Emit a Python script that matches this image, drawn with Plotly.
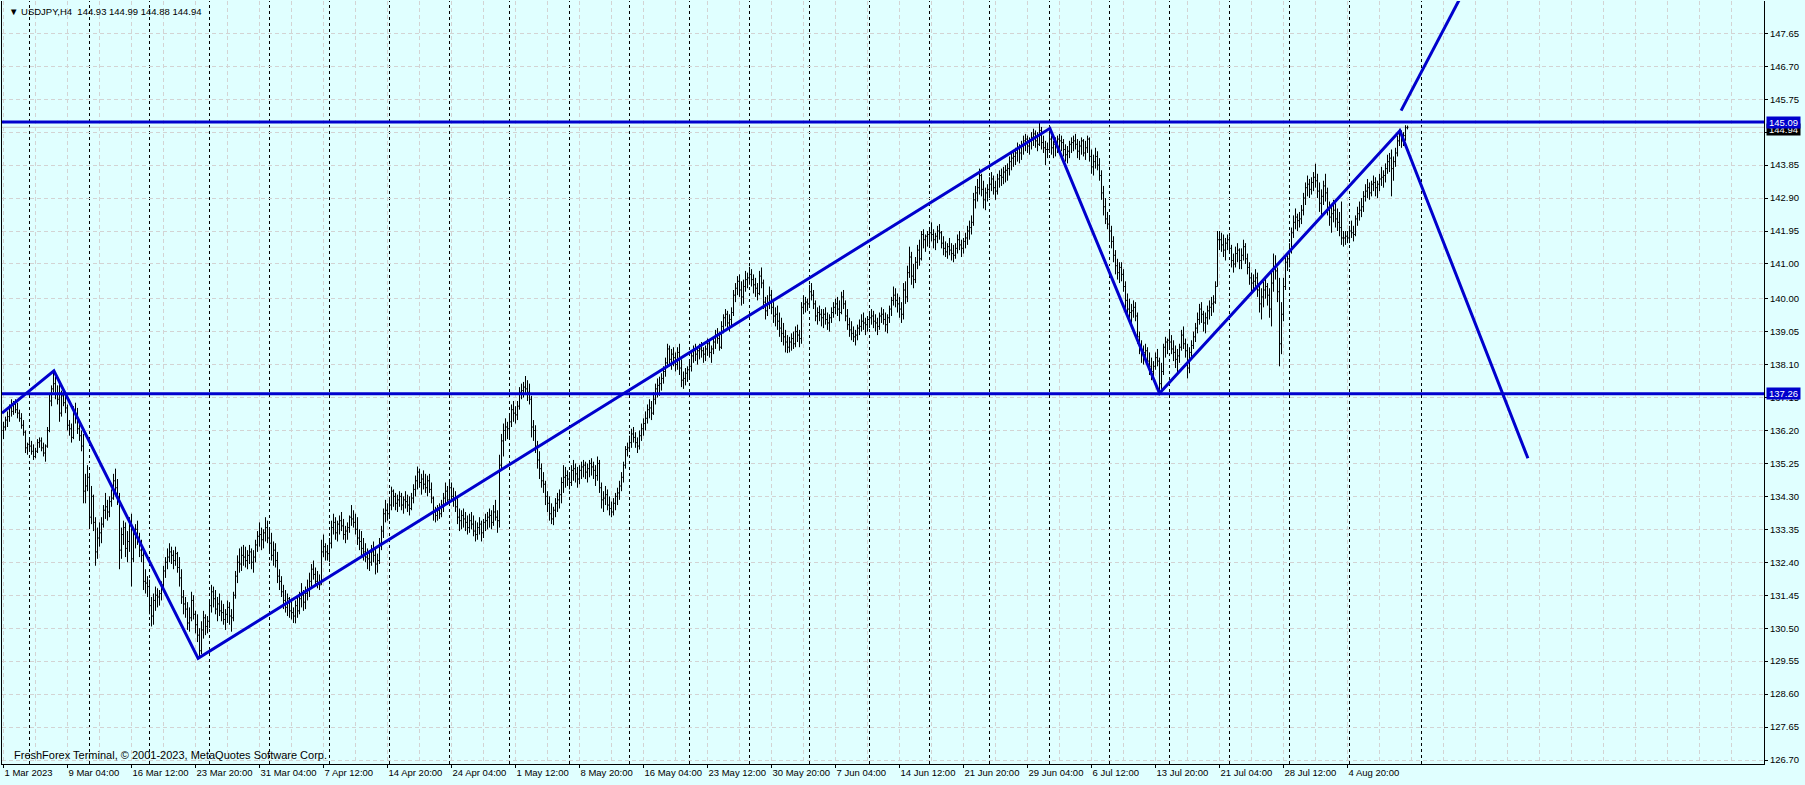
import plotly.graph_objects as go
import pandas as pd

# ---- USDJPY H4 bars (one line per trading day, 6 bars) ----
bar_high = [
    136.45,
    136.60, 136.75, 136.95, 137.10, 137.05, 137.10,
    137.00, 136.80, 136.70, 136.50, 136.20, 135.85,
    # week of 6 Mar
    135.95, 135.90, 135.80, 135.70, 135.95, 136.00,
    136.00, 135.85, 135.80, 136.30, 137.25, 137.50,
    137.92, 137.75, 137.50, 137.55, 137.35, 137.35,
    137.20, 136.95, 136.50, 136.40, 136.90, 137.00,
    136.85, 136.45, 136.20, 136.10, 134.95, 135.20,
    # week of 13 Mar
    134.90, 134.60, 134.35, 133.70, 133.40, 133.55,
    133.70, 134.05, 134.40, 134.20, 134.30, 134.50,
    134.95, 135.10, 134.80, 134.40, 133.40, 133.60,
    133.55, 133.30, 133.70, 133.80, 133.40, 133.50,
    133.60, 133.25, 133.05, 132.75, 132.20, 132.00,
    # week of 20 Mar
    131.90, 131.40, 131.50, 131.70, 131.65, 131.60,
    131.85, 132.30, 132.55, 132.80, 132.95, 132.85,
    132.75, 132.85, 132.70, 132.55, 132.20, 131.60,
    131.40, 131.25, 131.10, 131.55, 131.45, 131.00,
    130.90, 130.50, 130.70, 131.00, 130.90, 130.85,
    # week of 27 Mar
    131.30, 131.75, 131.70, 131.60, 131.40, 131.50,
    131.30, 131.20, 131.05, 131.30, 131.25, 131.05,
    131.55, 132.15, 132.60, 132.80, 132.85, 132.90,
    132.85, 132.75, 132.90, 132.80, 132.75, 133.05,
    133.30, 133.55, 133.40, 133.35, 133.70, 133.60,
    # week of 3 Apr
    133.40, 133.25, 133.00, 132.95, 132.70, 132.20,
    132.00, 131.75, 131.60, 131.50, 131.40, 131.35,
    131.10, 131.30, 131.40, 131.55, 131.80, 131.60,
    131.70, 131.90, 132.10, 132.35, 132.45, 132.25,
    132.15, 132.05, 133.05, 133.20, 132.95, 132.90,
    # week of 10 Apr
    133.10, 133.60, 133.80, 133.70, 133.60, 133.75,
    133.85, 133.65, 133.45, 133.55, 133.75, 134.05,
    133.90, 133.80, 133.70, 133.35, 133.30, 133.10,
    132.95, 132.80, 132.75, 132.90, 133.00, 132.80,
    132.65, 133.10, 133.45, 133.95, 134.20, 134.10,
    # week of 17 Apr
    134.25, 134.58, 134.50, 134.40, 134.35, 134.45,
    134.40, 134.30, 134.45, 134.35, 134.30, 134.40,
    134.65, 134.90, 135.16, 135.10, 134.95, 135.05,
    134.95, 134.90, 134.95, 134.70, 134.30, 134.00,
    134.05, 134.10, 134.20, 134.40, 134.70, 134.60,
    # week of 24 Apr
    134.75, 134.70, 134.55, 134.45, 134.25, 133.95,
    133.90, 133.95, 133.85, 133.75, 133.80, 133.85,
    133.75, 133.60, 133.55, 133.70, 133.60, 133.65,
    133.80, 133.85, 133.95, 133.90, 134.05, 134.20,
    133.90, 135.50, 136.10, 136.40, 136.55, 136.45,
    # week of 1 May
    136.65, 136.95, 137.05, 136.90, 137.05, 137.45,
    137.55, 137.60, 137.77, 137.65, 137.55, 137.20,
    136.50, 136.35, 135.90, 135.60, 135.25, 135.00,
    134.75, 134.45, 134.30, 134.10, 134.00, 134.25,
    134.40, 134.50, 134.85, 135.20, 135.15, 135.05,
    # week of 8 May
    135.00, 135.20, 135.35, 135.25, 135.15, 135.20,
    135.30, 135.35, 135.30, 135.25, 135.35, 135.40,
    135.30, 135.20, 135.45, 135.35, 134.70, 134.45,
    134.60, 134.50, 134.30, 134.15, 134.25, 134.40,
    134.55, 134.75, 135.00, 135.30, 135.75, 135.85,
    # week of 15 May
    136.05, 136.25, 136.30, 136.15, 136.00, 136.20,
    136.40, 136.55, 136.75, 136.95, 137.10, 137.05,
    137.30, 137.55, 137.70, 137.75, 137.85, 138.05,
    138.30, 138.70, 138.65, 138.55, 138.60, 138.45,
    138.60, 138.70, 138.25, 137.90, 138.00, 138.05,
    # week of 22 May
    138.25, 138.50, 138.65, 138.70, 138.60, 138.70,
    138.75, 138.60, 138.65, 138.85, 138.80, 138.65,
    138.85, 139.10, 139.15, 139.05, 139.35, 139.55,
    139.70, 139.65, 139.55, 139.75, 140.25, 140.45,
    140.65, 140.70, 140.50, 140.55, 140.80, 140.75,
    # week of 29 May
    140.92, 140.85, 140.70, 140.60, 140.45, 140.80,
    140.90, 140.55, 140.05, 140.10, 140.35, 140.25,
    139.90, 139.75, 139.80, 139.60, 139.45, 139.30,
    139.10, 138.95, 138.90, 139.00, 139.05, 139.20,
    139.25, 139.10, 139.90, 140.10, 140.05, 140.00,
    # week of 5 Jun
    140.40, 140.45, 140.25, 139.95, 139.75, 139.80,
    139.70, 139.70, 139.75, 139.60, 139.55, 139.75,
    139.90, 140.00, 140.05, 139.95, 140.20, 140.25,
    139.95, 139.70, 139.45, 139.35, 139.20, 139.10,
    139.25, 139.40, 139.55, 139.60, 139.45, 139.50,
    # week of 12 Jun
    139.60, 139.70, 139.65, 139.55, 139.45, 139.60,
    139.75, 139.70, 139.60, 139.55, 139.80, 140.05,
    140.35, 140.30, 140.15, 140.05, 139.90, 140.45,
    140.50, 140.95, 141.50, 141.35, 141.00, 141.20,
    141.55, 141.70, 141.95, 142.00, 141.85, 141.95,
    # week of 19 Jun
    142.05, 142.20, 142.00, 141.90, 142.10, 142.15,
    141.95, 141.80, 141.65, 141.60, 141.75, 141.60,
    141.55, 141.60, 141.85, 141.95, 141.70, 141.75,
    141.90, 142.10, 142.25, 142.40, 143.05, 143.25,
    143.45, 143.75, 143.60, 143.40, 143.20, 143.30,
    # week of 26 Jun
    143.50, 143.65, 143.55, 143.40, 143.60, 143.70,
    143.75, 143.80, 143.85, 143.90, 144.10, 144.20,
    144.25, 144.35, 144.50, 144.45, 144.55, 144.70,
    144.75, 144.70, 144.65, 144.80, 144.90, 144.85,
    144.80, 145.07, 144.95, 144.70, 144.55, 144.50,
    # week of 3 Jul
    144.75, 144.70, 144.55, 144.65, 144.70, 144.75,
    144.70, 144.60, 144.45, 144.40, 144.55, 144.65,
    144.70, 144.75, 144.60, 144.55, 144.65, 144.60,
    144.55, 144.70, 144.65, 144.30, 144.15, 144.35,
    144.25, 144.05, 143.70, 143.25, 142.90, 142.50,
    # week of 10 Jul
    142.40, 142.10, 141.80, 141.40, 141.15, 141.05,
    141.05, 140.85, 140.50, 140.15, 140.00, 139.85,
    139.95, 139.90, 139.60, 139.05, 138.80, 138.65,
    138.70, 138.60, 138.45, 138.30, 138.20, 138.45,
    138.55, 138.30, 138.15, 138.70, 138.90, 138.85,
    # week of 17 Jul
    139.05, 138.95, 138.80, 138.65, 138.55, 138.70,
    139.10, 139.20, 138.85, 138.70, 138.60, 138.80,
    139.05, 139.30, 139.60, 139.85, 139.90, 139.65,
    139.60, 139.80, 139.95, 140.05, 140.10, 140.50,
    141.95, 141.95, 141.90, 141.85, 141.75, 141.85,
    # week of 24 Jul
    141.80, 141.55, 141.30, 141.50, 141.60, 141.45,
    141.45, 141.70, 141.60, 141.30, 141.05, 140.75,
    140.70, 140.85, 140.75, 140.40, 140.30, 140.50,
    140.65, 140.45, 140.30, 140.80, 141.30, 141.25,
    140.90, 140.60, 139.90, 140.60, 141.20, 141.25,
    # week of 31 Jul
    141.60, 142.05, 142.40, 142.60, 142.45, 142.50,
    142.70, 143.05, 143.35, 143.55, 143.45, 143.50,
    143.65, 143.89, 143.60, 143.35, 143.15, 143.40,
    143.60, 143.20, 142.80, 142.70, 142.85, 142.75,
    142.60, 142.50, 142.80, 141.95, 141.95, 141.95,
    # week of 7 Aug
    142.10, 142.25, 142.10, 142.40, 142.65, 142.80,
    142.90, 143.10, 143.30, 143.45, 143.35, 143.40,
    143.55, 143.50, 143.40, 143.60, 143.80, 143.70,
    143.90, 144.15, 144.20, 144.30, 144.10, 144.35,
    144.70, 144.90, 144.85, 144.80, 145.00, 144.99,
]

bar_low = [
    135.95,
    136.20, 136.30, 136.45, 136.60, 136.65, 136.70,
    136.55, 136.45, 136.25, 136.05, 135.55, 135.50,
    # week of 6 Mar
    135.60, 135.50, 135.35, 135.40, 135.55, 135.70,
    135.60, 135.45, 135.30, 135.70, 136.15, 136.90,
    137.30, 137.10, 136.95, 136.45, 136.60, 136.90,
    136.70, 136.20, 136.05, 135.85, 135.95, 136.40,
    136.10, 135.90, 135.60, 134.10, 134.10, 134.45,
    # week of 13 Mar
    133.40, 133.50, 133.30, 132.30, 132.50, 132.85,
    132.95, 133.40, 133.65, 133.60, 133.70, 134.00,
    134.20, 134.40, 134.05, 132.20, 132.50, 132.90,
    132.55, 132.40, 132.70, 131.70, 132.40, 132.80,
    132.90, 132.55, 132.40, 131.60, 131.50, 131.40,
    # week of 20 Mar
    130.90, 130.55, 130.60, 131.00, 131.10, 131.15,
    131.30, 131.60, 131.95, 132.20, 132.40, 132.35,
    132.20, 132.30, 132.10, 131.70, 131.20, 130.90,
    130.80, 130.45, 130.40, 130.70, 130.75, 130.35,
    130.10, 129.64, 129.75, 130.20, 130.30, 130.35,
    # week of 27 Mar
    130.50, 130.95, 131.10, 130.90, 130.70, 130.85,
    130.70, 130.60, 130.45, 130.65, 130.60, 130.40,
    130.70, 131.35, 131.80, 132.10, 132.15, 132.30,
    132.25, 132.20, 132.35, 132.20, 132.10, 132.40,
    132.70, 132.85, 132.75, 132.80, 133.00, 132.95,
    # week of 3 Apr
    132.70, 132.45, 132.30, 132.25, 131.80, 131.60,
    131.40, 131.05, 130.95, 130.85, 130.80, 130.75,
    130.65, 130.64, 130.80, 130.90, 131.10, 131.00,
    131.05, 131.30, 131.40, 131.65, 131.90, 131.70,
    131.65, 131.60, 131.75, 132.55, 132.45, 132.45,
    # week of 10 Apr
    132.40, 132.80, 133.20, 133.05, 133.00, 133.20,
    133.30, 133.05, 132.95, 133.05, 133.25, 133.45,
    133.40, 133.20, 132.90, 132.75, 132.60, 132.45,
    132.40, 132.20, 132.15, 132.30, 132.40, 132.05,
    132.10, 132.35, 132.75, 133.10, 133.55, 133.60,
    # week of 17 Apr
    133.65, 133.90, 134.00, 133.90, 133.85, 134.00,
    133.90, 133.80, 133.95, 133.85, 133.75, 133.90,
    134.10, 134.30, 134.50, 134.55, 134.35, 134.50,
    134.40, 134.30, 134.40, 134.10, 133.60, 133.55,
    133.60, 133.65, 133.70, 133.85, 134.10, 134.05,
    # week of 24 Apr
    134.05, 134.15, 134.00, 133.85, 133.50, 133.30,
    133.35, 133.40, 133.30, 133.20, 133.25, 133.35,
    133.15, 133.00, 133.05, 133.20, 133.00, 133.10,
    133.30, 133.35, 133.40, 133.35, 133.45, 133.60,
    133.25, 133.40, 135.05, 135.45, 135.90, 135.95,
    # week of 1 May
    136.00, 136.30, 136.45, 136.40, 136.50, 136.80,
    137.10, 137.15, 137.25, 137.05, 136.95, 136.00,
    135.90, 135.55, 135.10, 134.80, 134.55, 134.40,
    134.05, 133.85, 133.60, 133.50, 133.47, 133.70,
    133.85, 133.95, 134.10, 134.40, 134.55, 134.60,
    # week of 8 May
    134.50, 134.60, 134.75, 134.70, 134.55, 134.65,
    134.80, 134.85, 134.80, 134.70, 134.85, 134.90,
    134.80, 134.60, 134.75, 134.40, 133.95, 133.85,
    134.05, 133.90, 133.75, 133.70, 133.75, 133.90,
    134.05, 134.20, 134.45, 134.70, 135.10, 135.45,
    # week of 15 May
    135.60, 135.70, 135.85, 135.70, 135.55, 135.65,
    135.90, 136.05, 136.20, 136.40, 136.55, 136.50,
    136.65, 136.95, 137.15, 137.20, 137.35, 137.55,
    137.75, 138.00, 138.05, 137.95, 138.05, 137.90,
    137.95, 137.80, 137.45, 137.40, 137.50, 137.60,
    # week of 22 May
    137.70, 137.90, 138.15, 138.20, 138.10, 138.25,
    138.30, 138.15, 138.20, 138.35, 138.30, 138.15,
    138.40, 138.55, 138.70, 138.50, 138.55, 139.00,
    139.20, 139.10, 139.05, 139.20, 139.50, 139.90,
    140.10, 140.05, 139.80, 139.85, 140.20, 140.30,
    # week of 29 May
    140.40, 140.35, 140.15, 140.05, 139.95, 140.10,
    140.30, 139.70, 139.40, 139.50, 139.70, 139.55,
    139.30, 139.20, 139.10, 138.90, 138.75, 138.65,
    138.45, 138.43, 138.45, 138.50, 138.55, 138.60,
    138.75, 138.60, 138.70, 139.55, 139.60, 139.65,
    # week of 5 Jun
    139.75, 139.95, 139.70, 139.35, 139.25, 139.35,
    139.20, 139.15, 139.25, 139.10, 139.05, 139.30,
    139.45, 139.55, 139.50, 139.35, 139.55, 139.70,
    139.35, 139.10, 138.90, 138.80, 138.75, 138.65,
    138.80, 138.95, 139.05, 139.10, 138.95, 139.05,
    # week of 12 Jun
    139.15, 139.25, 139.15, 139.05, 138.95, 139.10,
    139.30, 139.25, 139.05, 139.00, 139.30, 139.50,
    139.80, 139.75, 139.60, 139.45, 139.30, 139.40,
    139.85, 139.90, 140.60, 140.40, 140.30, 140.45,
    140.85, 140.95, 141.10, 141.45, 141.35, 141.50,
    # week of 19 Jun
    141.55, 141.65, 141.45, 141.40, 141.60, 141.70,
    141.45, 141.25, 141.20, 141.15, 141.25, 141.10,
    141.05, 141.15, 141.30, 141.40, 141.20, 141.30,
    141.45, 141.55, 141.70, 141.85, 142.10, 142.60,
    142.80, 143.00, 142.95, 142.60, 142.55, 142.80,
    # week of 26 Jun
    142.90, 143.10, 143.00, 142.85, 143.00, 143.20,
    143.25, 143.30, 143.35, 143.40, 143.55, 143.70,
    143.80, 143.85, 143.95, 143.90, 144.00, 144.15,
    144.25, 144.20, 144.15, 144.30, 144.40, 144.35,
    144.25, 144.40, 144.30, 144.20, 143.85, 144.05,
    # week of 3 Jul
    144.20, 144.15, 144.05, 144.10, 144.20, 144.30,
    144.25, 144.10, 143.95, 143.90, 144.05, 144.20,
    144.25, 144.30, 144.05, 144.00, 144.15, 144.10,
    144.00, 144.20, 143.95, 143.60, 143.55, 143.75,
    143.70, 143.40, 142.85, 142.40, 142.15, 142.00,
    # week of 10 Jul
    141.70, 141.45, 141.05, 140.70, 140.55, 140.45,
    140.50, 140.20, 139.70, 139.45, 139.35, 139.30,
    139.45, 139.35, 138.70, 138.40, 138.15, 138.10,
    138.25, 138.05, 137.80, 137.65, 137.70, 137.95,
    138.05, 137.24, 137.40, 137.80, 138.30, 138.40,
    # week of 17 Jul
    138.55, 138.40, 138.20, 138.00, 137.85, 138.15,
    138.50, 138.55, 138.30, 137.70, 137.85, 138.30,
    138.55, 138.75, 139.00, 139.25, 139.30, 139.05,
    139.00, 139.25, 139.40, 139.50, 139.60, 139.85,
    140.40, 141.40, 141.35, 141.20, 141.10, 141.40,
    # week of 24 Jul
    141.30, 140.90, 140.75, 140.90, 141.05, 140.85,
    140.85, 141.10, 141.00, 140.70, 140.40, 140.15,
    140.20, 140.30, 140.05, 139.60, 139.40, 139.75,
    140.00, 139.80, 139.45, 139.20, 140.20, 140.55,
    139.90, 138.05, 138.40, 139.35, 140.25, 140.80,
    # week of 31 Jul
    140.90, 141.30, 141.75, 142.00, 141.95, 142.05,
    142.15, 142.40, 142.70, 142.95, 142.90, 143.00,
    143.10, 143.20, 142.90, 142.50, 142.35, 142.70,
    142.80, 142.40, 142.10, 141.90, 142.20, 142.05,
    141.95, 141.80, 141.55, 141.50, 141.55, 141.60,
    # week of 7 Aug
    141.60, 141.75, 141.65, 141.80, 142.10, 142.25,
    142.35, 142.50, 142.80, 142.90, 142.85, 142.95,
    143.10, 142.95, 142.90, 143.10, 143.25, 143.20,
    143.35, 143.60, 143.65, 142.95, 143.40, 143.80,
    144.10, 144.40, 144.35, 144.40, 144.55, 144.88,
]

bar_close = [
    136.30,
    136.50, 136.60, 136.85, 136.75, 136.95, 136.80,
    136.70, 136.55, 136.35, 136.15, 135.70, 135.80,
    # week of 6 Mar
    135.75, 135.60, 135.45, 135.60, 135.85, 135.90,
    135.70, 135.55, 135.75, 136.20, 137.05, 137.40,
    137.55, 137.25, 137.10, 136.70, 137.20, 137.00,
    136.85, 136.35, 136.25, 136.00, 136.70, 136.55,
    136.25, 136.05, 135.75, 134.45, 134.60, 134.85,
    # week of 13 Mar
    133.70, 134.30, 133.55, 132.70, 133.10, 133.25,
    133.50, 133.90, 134.00, 133.85, 134.15, 134.25,
    134.75, 134.55, 134.30, 132.75, 133.20, 133.40,
    132.80, 133.00, 133.45, 132.50, 133.20, 133.35,
    133.05, 132.75, 132.60, 131.85, 131.80, 131.70,
    # week of 20 Mar
    131.15, 130.85, 131.30, 131.45, 131.40, 131.50,
    131.75, 132.15, 132.40, 132.55, 132.70, 132.60,
    132.45, 132.65, 132.25, 131.95, 131.40, 131.20,
    131.05, 130.65, 130.80, 131.30, 130.90, 130.60,
    130.30, 129.85, 130.45, 130.80, 130.55, 130.70,
    # week of 27 Mar
    131.15, 131.55, 131.35, 131.05, 131.20, 131.00,
    130.95, 130.75, 130.90, 131.10, 130.85, 130.80,
    131.45, 132.00, 132.40, 132.35, 132.60, 132.55,
    132.45, 132.60, 132.70, 132.40, 132.55, 132.90,
    133.15, 133.20, 133.05, 133.25, 133.40, 133.10,
    # week of 3 Apr
    132.95, 132.60, 132.75, 132.45, 132.00, 131.85,
    131.55, 131.30, 131.10, 131.35, 131.00, 130.95,
    130.85, 131.15, 131.00, 131.35, 131.45, 131.25,
    131.50, 131.60, 131.85, 132.20, 132.05, 131.85,
    131.80, 131.75, 132.70, 132.85, 132.70, 132.65,
    # week of 10 Apr
    132.95, 133.40, 133.55, 133.25, 133.50, 133.60,
    133.45, 133.20, 133.30, 133.40, 133.70, 133.65,
    133.55, 133.35, 133.10, 133.00, 132.80, 132.70,
    132.55, 132.50, 132.40, 132.70, 132.60, 132.35,
    132.45, 132.95, 133.30, 133.80, 133.90, 133.80,
    # week of 17 Apr
    134.05, 134.45, 134.30, 134.10, 134.20, 134.30,
    134.05, 134.20, 134.15, 134.05, 133.95, 134.25,
    134.50, 134.75, 135.00, 134.70, 134.80, 134.65,
    134.55, 134.75, 134.50, 134.25, 133.85, 133.75,
    133.90, 133.80, 134.05, 134.25, 134.45, 134.20,
    # week of 24 Apr
    134.55, 134.30, 134.20, 134.00, 133.70, 133.60,
    133.75, 133.65, 133.55, 133.40, 133.60, 133.50,
    133.30, 133.20, 133.40, 133.50, 133.25, 133.55,
    133.60, 133.70, 133.75, 133.55, 133.85, 133.70,
    133.60, 135.20, 135.90, 136.20, 136.30, 136.25,
    # week of 1 May
    136.45, 136.80, 136.70, 136.65, 136.90, 137.30,
    137.35, 137.45, 137.40, 137.30, 137.10, 136.30,
    136.20, 135.75, 135.35, 135.10, 134.75, 134.65,
    134.30, 134.10, 133.80, 133.65, 133.90, 134.10,
    134.20, 134.35, 134.70, 134.85, 134.90, 134.80,
    # week of 8 May
    134.70, 135.05, 135.10, 134.95, 134.80, 135.05,
    135.15, 135.20, 135.00, 135.10, 135.25, 135.15,
    135.05, 134.90, 135.25, 134.55, 134.20, 134.25,
    134.35, 134.05, 133.95, 133.85, 134.10, 134.30,
    134.40, 134.60, 134.85, 135.20, 135.65, 135.70,
    # week of 15 May
    135.85, 136.10, 136.00, 135.85, 135.75, 136.05,
    136.25, 136.40, 136.55, 136.80, 136.85, 136.70,
    137.10, 137.40, 137.50, 137.55, 137.70, 137.90,
    138.15, 138.55, 138.25, 138.40, 138.30, 138.10,
    138.45, 138.00, 137.65, 137.70, 137.85, 137.95,
    # week of 22 May
    138.05, 138.35, 138.50, 138.40, 138.50, 138.55,
    138.50, 138.40, 138.55, 138.70, 138.45, 138.55,
    138.75, 138.95, 138.85, 138.60, 139.20, 139.45,
    139.55, 139.30, 139.40, 139.60, 140.10, 140.30,
    140.50, 140.25, 140.05, 140.35, 140.55, 140.60,
    # week of 29 May
    140.70, 140.55, 140.40, 140.30, 140.15, 140.65,
    140.45, 139.90, 139.65, 139.85, 140.10, 139.75,
    139.50, 139.55, 139.35, 139.15, 139.00, 138.90,
    138.75, 138.60, 138.75, 138.85, 138.70, 139.05,
    138.95, 138.85, 139.75, 139.85, 139.90, 139.85,
    # week of 5 Jun
    140.20, 140.10, 139.85, 139.50, 139.60, 139.55,
    139.45, 139.55, 139.40, 139.30, 139.45, 139.60,
    139.75, 139.85, 139.70, 139.60, 140.05, 139.85,
    139.50, 139.25, 139.10, 139.00, 138.90, 138.95,
    139.15, 139.20, 139.35, 139.30, 139.25, 139.40,
    # week of 12 Jun
    139.45, 139.50, 139.35, 139.30, 139.20, 139.50,
    139.55, 139.40, 139.25, 139.45, 139.70, 139.95,
    140.10, 139.95, 139.85, 139.70, 139.55, 140.25,
    140.05, 140.75, 141.20, 140.65, 140.55, 141.05,
    141.40, 141.15, 141.85, 141.70, 141.80, 141.85,
    # week of 19 Jun
    141.90, 141.85, 141.70, 141.80, 141.95, 141.90,
    141.60, 141.45, 141.35, 141.50, 141.40, 141.30,
    141.25, 141.45, 141.70, 141.55, 141.45, 141.65,
    141.75, 141.95, 142.05, 142.20, 142.85, 143.05,
    143.20, 143.55, 143.15, 142.85, 143.05, 143.15,
    # week of 26 Jun
    143.30, 143.45, 143.20, 143.10, 143.45, 143.55,
    143.50, 143.65, 143.70, 143.75, 143.95, 144.05,
    144.10, 144.20, 144.35, 144.20, 144.45, 144.55,
    144.60, 144.40, 144.55, 144.65, 144.75, 144.55,
    144.45, 144.85, 144.50, 144.35, 144.30, 144.30,
    # week of 3 Jul
    144.60, 144.35, 144.45, 144.50, 144.60, 144.55,
    144.50, 144.30, 144.15, 144.25, 144.45, 144.50,
    144.55, 144.45, 144.25, 144.40, 144.55, 144.20,
    144.35, 144.60, 144.10, 143.80, 143.95, 144.10,
    143.85, 143.55, 143.05, 142.65, 142.30, 142.15,
    # week of 10 Jul
    141.95, 141.65, 141.25, 140.95, 140.75, 140.90,
    140.70, 140.35, 139.95, 139.70, 139.60, 139.65,
    139.75, 139.50, 138.90, 138.60, 138.40, 138.45,
    138.50, 138.20, 138.05, 137.90, 138.05, 138.30,
    138.20, 137.55, 137.90, 138.60, 138.75, 138.80,
    # week of 17 Jul
    138.75, 138.55, 138.45, 138.25, 138.35, 138.60,
    138.95, 138.70, 138.50, 138.00, 138.45, 138.65,
    138.90, 139.15, 139.40, 139.70, 139.55, 139.30,
    139.45, 139.65, 139.75, 139.85, 139.90, 140.35,
    141.70, 141.70, 141.55, 141.40, 141.60, 141.70,
    # week of 24 Jul
    141.45, 141.10, 141.00, 141.30, 141.40, 141.10,
    141.25, 141.50, 141.15, 140.90, 140.60, 140.45,
    140.50, 140.60, 140.25, 139.85, 140.05, 140.25,
    140.35, 140.10, 139.70, 140.45, 140.90, 140.80,
    140.20, 138.70, 139.55, 140.35, 141.05, 141.15,
    # week of 31 Jul
    141.40, 141.90, 142.20, 142.35, 142.25, 142.30,
    142.55, 142.90, 143.20, 143.30, 143.15, 143.35,
    143.50, 143.40, 143.10, 142.75, 142.95, 143.25,
    143.05, 142.60, 142.35, 142.45, 142.55, 142.30,
    142.20, 142.05, 141.75, 141.75, 141.80, 141.75,
    # week of 7 Aug
    141.95, 141.90, 141.85, 142.30, 142.45, 142.55,
    142.65, 142.95, 143.10, 143.20, 143.05, 143.30,
    143.35, 143.20, 143.30, 143.45, 143.50, 143.55,
    143.75, 143.95, 144.05, 143.75, 143.95, 144.20,
    144.55, 144.75, 144.55, 144.70, 144.93, 144.94,
]
first_open = 136.20
first_bar_time = "2023-03-01 20:00"

x_tick_labels = [
    "1 Mar 2023", "9 Mar 04:00", "16 Mar 12:00", "23 Mar 20:00", "31 Mar 04:00",
    "7 Apr 12:00", "14 Apr 20:00", "24 Apr 04:00", "1 May 12:00", "8 May 20:00",
    "16 May 04:00", "23 May 12:00", "30 May 20:00", "7 Jun 04:00", "14 Jun 12:00",
    "21 Jun 20:00", "29 Jun 04:00", "6 Jul 12:00", "13 Jul 20:00", "21 Jul 04:00",
    "28 Jul 12:00", "4 Aug 20:00",
]
y_tick_values = [
    126.70, 127.65, 128.60, 129.55, 130.50, 131.45, 132.40, 133.35, 134.30,
    135.25, 136.20, 137.15, 138.10, 139.05, 140.00, 141.00, 141.95, 142.90,
    143.85, 144.80, 145.75, 146.70, 147.65,
]

# hand-drawn objects (bar index, price)
zigzag_idx = [-0.75, 25.2, 97.3, 523.2, 578.0, 698.2, 762.2]
zigzag_price = [136.70, 137.92, 129.63, 144.91, 137.27, 144.84, 135.40]
ray_idx = [698.8, 730.0]
ray_price = [145.42, 148.85]
level_prices = [145.09, 137.26]
bid_price = 144.94
extra_separator_idx = 709

BG = "#E0FFFF"
BLUE = "#0000CD"
GRID = "#D3D3D3"
FONT = "Liberation Sans, Arial, sans-serif"

n = len(bar_close)
bar_open = [first_open] + bar_close[:-1]
bar_high = [max(h, o, c) for h, o, c in zip(bar_high, bar_open, bar_close)]
bar_low = [min(l, o, c) for l, o, c in zip(bar_low, bar_open, bar_close)]
xs = list(range(n))

# bar clock (weekdays only, 4h steps) for ticks and weekly separators
times = pd.date_range(first_bar_time, periods=n * 2, freq="4h")
times = times[times.dayofweek < 5][:n]
label_of = {f"{t.day} {t:%b} {t:%H:%M}": i for i, t in enumerate(times)}
x_tick_pos = [0] + [label_of[s] for s in x_tick_labels[1:]]
separators = [i for i, t in enumerate(times) if t.dayofweek == 0 and t.hour == 0]
separators.append(extra_separator_idx)

fig = go.Figure()

fig.add_trace(go.Ohlc(
    x=xs, open=bar_open, high=bar_high, low=bar_low, close=bar_close,
    increasing=dict(line=dict(color="black", width=1)),
    decreasing=dict(line=dict(color="black", width=1)),
    tickwidth=0.5, hoverinfo="skip", showlegend=False,
))

fig.add_trace(go.Scatter(
    x=zigzag_idx, y=zigzag_price, mode="lines",
    line=dict(color=BLUE, width=3), hoverinfo="skip", showlegend=False,
))
fig.add_trace(go.Scatter(
    x=ray_idx, y=ray_price, mode="lines",
    line=dict(color=BLUE, width=3), hoverinfo="skip", showlegend=False,
))

shapes = []
for s in separators:
    shapes.append(dict(type="line", xref="x", yref="paper", x0=s, x1=s, y0=0, y1=1,
                       line=dict(color="black", width=1, dash="3px,3px"), layer="between"))
shapes.append(dict(type="line", xref="paper", yref="y", x0=0, x1=1, y0=bid_price, y1=bid_price,
                   line=dict(color="#C8C8C8", width=1), layer="between"))
for p in level_prices:
    shapes.append(dict(type="line", xref="paper", yref="y", x0=0, x1=1, y0=p, y1=p,
                       line=dict(color=BLUE, width=3), layer="above"))

annotations = [
    dict(xref="paper", yref="paper", x=0, y=1, xanchor="left", yanchor="top",
         xshift=5, yshift=-3, showarrow=False,
         text="\u25BC\u00a0USDJPY,H4\u00a0\u00a0144.93\u00a0144.99\u00a0144.88\u00a0144.94",
         font=dict(family=FONT, size=9.5, color="black")),
    dict(xref="paper", yref="paper", x=0, y=0, xanchor="left", yanchor="bottom",
         xshift=10, yshift=1, showarrow=False,
         text="FreshForex Terminal, \u00a9 2001-2023, MetaQuotes Software Corp.",
         font=dict(family=FONT, size=11, color="black")),
    dict(xref="paper", yref="y", x=1, y=bid_price, xanchor="left", yanchor="middle",
         xshift=2, yshift=-2, showarrow=False, text=f"{bid_price:.2f}", width=33,
         bgcolor="black", borderpad=0, font=dict(family=FONT, size=9.5, color="white")),
]
for p in level_prices:
    annotations.append(dict(xref="paper", yref="y", x=1, y=p, xanchor="left", yanchor="middle",
                            xshift=2, showarrow=False, text=f"{p:.2f}", width=33,
                            bgcolor=BLUE, borderpad=0,
                            font=dict(family=FONT, size=9.5, color="white")))

fig.update_layout(
    width=1805, height=785,
    margin=dict(l=2, r=41, t=1, b=21),
    paper_bgcolor=BG, plot_bgcolor=BG,
    font=dict(family=FONT, size=9.5, color="black"),
    showlegend=False, hovermode=False,
    shapes=shapes, annotations=annotations,
)
fig.update_xaxes(
    range=[-0.75, 880.25], rangeslider_visible=False,
    tickmode="array", tickvals=x_tick_pos, ticktext=x_tick_labels, tickangle=0,
    ticks="outside", ticklen=3, tickcolor="black", ticklabelposition="outside right",
    tickfont=dict(family=FONT, size=9.5, color="black"),
    showline=True, linecolor="black", linewidth=1, mirror=False,
    showgrid=True, gridcolor=GRID, griddash="4px,3px", gridwidth=1, zeroline=False,
    minor=dict(tickmode="linear", tick0=0, dtick=16, showgrid=True,
               gridcolor=GRID, griddash="4px,3px", gridwidth=1, ticklen=0),
)
fig.update_yaxes(
    range=[126.585, 148.581], side="right",
    tickmode="array", tickvals=y_tick_values, ticktext=[f"{v:.2f}" for v in y_tick_values],
    ticks="outside", ticklen=3, tickcolor="black",
    tickfont=dict(family=FONT, size=9.5, color="black"),
    showline=True, linecolor="black", linewidth=1, mirror=True,
    showgrid=True, gridcolor=GRID, griddash="4px,3px", gridwidth=1, zeroline=False,
)

# the page's default body margin would shift the chart; drop it
fig.write_html("out.html", config={"displayModeBar": False},
               post_script="document.body.style.margin='0';")
